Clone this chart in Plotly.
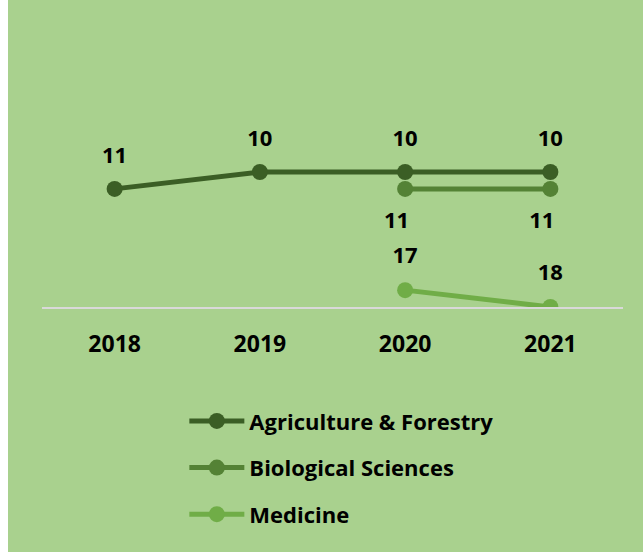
import plotly.graph_objects as go

years = ["2018", "2019", "2020", "2021"]
agri = [11, 10, 10, 10]
bio_years = ["2020", "2021"]
bio = [11, 11]
med_years = ["2020", "2021"]
med = [17, 18]

bg = "#a9d18e"
c_agri = "#3b5e25"
c_bio = "#548235"
c_med = "#70ad47"
font_family = "'Open Sans', Lato, sans-serif"

NB = "\u00a0"
fig = go.Figure()
# (name, x, y, colour, label position, label offset marker size, label padding)
series = [
    ("Agriculture & Forestry", years, agri, c_agri, "top center", 31, ""),
    ("Biological Sciences", bio_years, bio, c_bio, "bottom center", 35, NB * 3),
    ("Medicine", med_years, med, c_med, "top center", 33, ""),
]
for i, (name, xs, ys, col, pos, lblsize, pad) in enumerate(series):
    fig.add_trace(go.Scatter(
        x=xs, y=ys, name=f"<b>{name}</b>", mode="lines+markers",
        line=dict(color=col, width=5),
        marker=dict(color=col, size=16),
        legendgroup=f"g{i}",
        hoverinfo="skip",
    ))
for i, (name, xs, ys, col, pos, lblsize, pad) in enumerate(series):
    fig.add_trace(go.Scatter(
        x=xs, y=ys, mode="markers+text", showlegend=False,
        marker=dict(color="rgba(0,0,0,0)", size=lblsize, line=dict(width=0)),
        text=[f"<b>{v}</b>{pad}" for v in ys], textposition=pos,
        textfont=dict(size=22, color="black", family=font_family),
        hoverinfo="skip", cliponaxis=False,
    ))

fig.update_layout(
    width=635, height=552,
    margin=dict(l=34, r=20, t=37, b=245),
    paper_bgcolor=bg, plot_bgcolor=bg,
    font=dict(family=font_family, size=20, color="black"),
    xaxis=dict(type="category", categoryorder="array", categoryarray=years,
               range=[-0.5, 3.5], showgrid=False, zeroline=False,
               showline=True, linecolor="#d9d9d9", linewidth=2,
               ticks="outside", ticklen=15, tickcolor="rgba(0,0,0,0)",
               tickfont=dict(size=23, family=font_family),
               tickvals=years, ticktext=[f"<b>{y}</b>" for y in years]),
    yaxis=dict(range=[18, 2], showgrid=False, zeroline=False, showline=False,
               showticklabels=False, ticks=""),
    showlegend=True,
    legend=dict(x=0.245, y=-0.345, xanchor="left", yanchor="top",
                bgcolor="rgba(0,0,0,0)", itemwidth=55, tracegroupgap=15,
                font=dict(size=22, family=font_family)),
)

fig.write_html("out.html",
               post_script="document.body.style.margin='0px 0px 0px 8px';")
